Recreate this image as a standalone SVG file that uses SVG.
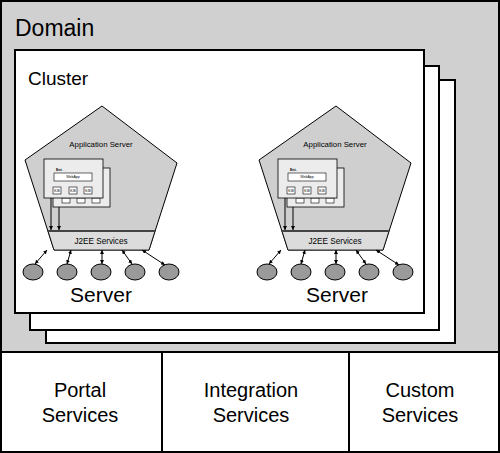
<svg xmlns="http://www.w3.org/2000/svg" width="500" height="453" viewBox="0 0 500 453">
<defs>
<style>
text{font-family:"Liberation Sans",Arial,sans-serif;fill:#000}
.big{font-size:20px}
.pent{fill:#cfcfcf;stroke:#000;stroke-width:1}
.band{fill:#dcdcdc;stroke:#000;stroke-width:0.8}
.ell{fill:#9a9a9a;stroke:#000;stroke-width:1}
.conn{stroke:#000;stroke-width:1;fill:none}
.ejb{fill:#ececec;stroke:#000;stroke-width:0.8}
.sm{fill:#fff;stroke:#000;stroke-width:0.6}
.tiny{font-size:3.5px}
</style>
<marker id="ah" viewBox="0 0 6 6" refX="6" refY="3" markerWidth="4" markerHeight="4" markerUnits="userSpaceOnUse" orient="auto-start-reverse">
<path d="M0,0 L6,3 L0,6 z" fill="#000"/>
</marker>
<g id="serverTpl">
<polygon class="pent" points="102,106 177,163 149,250 54,250 25,160"/>
<polygon class="band" points="48,231 155,231 149,250 54,250"/>
<line x1="48" y1="231" x2="155" y2="231" stroke="#444" stroke-width="2"/>
<text x="101" y="147" font-size="7.8" text-anchor="middle">Application Server</text>
<text x="101" y="244" font-size="8.2" text-anchor="middle">J2EE Services</text>
<rect class="ejb" x="53" y="168" width="57" height="39"/>
<rect class="sm" x="62" y="198" width="8" height="5"/>
<rect class="sm" x="77" y="198" width="8" height="5"/>
<rect class="sm" x="92" y="198" width="8" height="5"/>
<rect class="ejb" x="44" y="159" width="59" height="39"/>
<text x="56" y="171" class="tiny" font-weight="bold">Ent.</text>
<rect class="sm" x="54" y="173" width="38" height="8"/>
<text x="73" y="178.3" class="tiny" text-anchor="middle">WebApp</text>
<rect class="sm" x="53" y="187" width="8" height="7"/>
<rect class="sm" x="69" y="187" width="8" height="7"/>
<rect class="sm" x="84" y="187" width="8" height="7"/>
<text x="57" y="191.8" font-size="3" text-anchor="middle">EJB</text>
<text x="73" y="191.8" font-size="3" text-anchor="middle">EJB</text>
<text x="88" y="191.8" font-size="3" text-anchor="middle">EJB</text>
<ellipse class="ell" cx="33" cy="272" rx="10" ry="8"/>
<ellipse class="ell" cx="67" cy="272" rx="10" ry="8"/>
<ellipse class="ell" cx="101" cy="272" rx="10" ry="8"/>
<ellipse class="ell" cx="135" cy="272" rx="10" ry="8"/>
<ellipse class="ell" cx="169" cy="272" rx="10" ry="8"/>
<g class="connectors">
<line class="conn" x1="51" y1="198" x2="51" y2="230" marker-end="url(#ah)"/>
<line class="conn" x1="59" y1="207" x2="59" y2="230" marker-end="url(#ah)"/>
<line class="conn" x1="35" y1="264" x2="47" y2="250" marker-start="url(#ah)" marker-end="url(#ah)"/>
<line class="conn" x1="67" y1="264" x2="71" y2="250" marker-start="url(#ah)" marker-end="url(#ah)"/>
<line class="conn" x1="102" y1="264" x2="102" y2="250" marker-start="url(#ah)" marker-end="url(#ah)"/>
<line class="conn" x1="132" y1="264" x2="122" y2="250" marker-start="url(#ah)" marker-end="url(#ah)"/>
<line class="conn" x1="165" y1="265" x2="142" y2="250" marker-start="url(#ah)" marker-end="url(#ah)"/>
</g>
</g>
</defs>
<g id="domain">
<rect x="1" y="1" width="498" height="451" fill="#d0d0d0" stroke="#000" stroke-width="2"/>
<text x="15" y="36" font-size="23">Domain</text>
</g>
<g id="cluster3"><rect x="46" y="80" width="409" height="263" fill="#fff" stroke="#000" stroke-width="2"/></g>
<g id="cluster2"><rect x="30" y="66" width="409" height="264" fill="#fff" stroke="#000" stroke-width="2"/></g>
<g id="cluster1">
<rect x="15" y="50" width="409" height="263" fill="#fff" stroke="#000" stroke-width="2"/>
<text x="28" y="85" font-size="19">Cluster</text>
</g>
<g id="server1">
<use href="#serverTpl"/>
<text x="101" y="302" font-size="21" text-anchor="middle">Server</text>
</g>
<g id="server2">
<use href="#serverTpl" transform="translate(234,0)"/>
<text x="337" y="302" font-size="21" text-anchor="middle">Server</text>
</g>
<g id="services">
<rect x="1" y="352" width="498" height="100" fill="#fff" stroke="#000" stroke-width="2"/>
<line x1="162" y1="352" x2="162" y2="452" stroke="#000" stroke-width="2"/>
<line x1="349" y1="352" x2="349" y2="452" stroke="#000" stroke-width="2"/>
</g>
<g id="portal"><text class="big" x="80" y="397" text-anchor="middle">Portal</text><text class="big" x="80" y="422" text-anchor="middle">Services</text></g>
<g id="integration"><text class="big" x="251" y="397" text-anchor="middle">Integration</text><text class="big" x="251" y="422" text-anchor="middle">Services</text></g>
<g id="custom"><text class="big" x="420" y="397" text-anchor="middle">Custom</text><text class="big" x="420" y="422" text-anchor="middle">Services</text></g>
</svg>
